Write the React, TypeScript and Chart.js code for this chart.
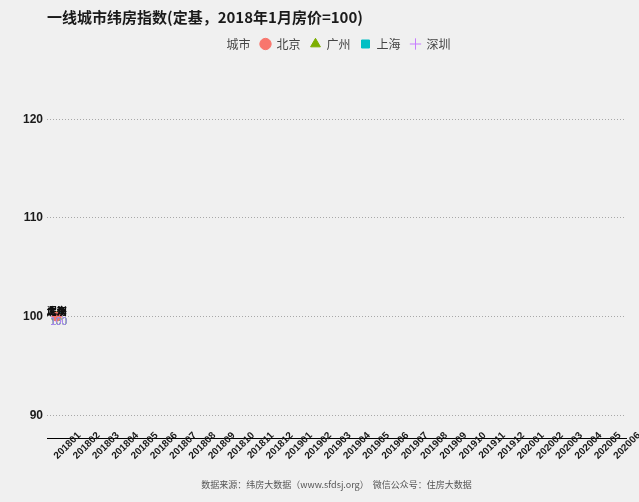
import React, { useEffect, useRef } from 'react';
import { Chart, registerables } from 'chart.js';

Chart.register(...registerables);

// ---- data ----
const months = [
  '201801', '201802', '201803', '201804', '201805', '201806',
  '201807', '201808', '201809', '201810', '201811', '201812',
  '201901', '201902', '201903', '201904', '201905', '201906',
  '201907', '201908', '201909', '201910', '201911', '201912',
  '202001', '202002', '202003', '202004', '202005', '202006',
];
const cities = ['北京', '广州', '上海', '深圳'];
const beijing = [100];
const guangzhou = [100];
const shanghai = [100];
const shenzhen = [100];
const yTicks = [90, 100, 110, 120];

const titleText = '一线城市纬房指数(定基，2018年1月房价=100)';
const legendTitle = '城市';
const footerText = '数据来源：纬房大数据（www.sfdsj.org）  微信公众号：住房大数据';

// ---- styles ----
const colors = ['#F8766D', '#7CAE00', '#00BFC4', '#C77CFF'];
const pointStyles = ['circle', 'triangle', 'rect', 'cross'];
const pointRadii = [4.5, 5.5, 5.5, 5.5];
const BG = '#F0F0F0';
const FONT = "'Liberation Sans', 'Noto Sans CJK SC', sans-serif";
const CJK = "'Noto Sans CJK SC', 'Liberation Sans', sans-serif";

const pointLabelPlugin = {
  id: 'pointLabels',
  afterDatasetsDraw(chart: any) {
    const ctx = chart.ctx;
    ctx.save();
    ctx.textAlign = 'center';
    ctx.textBaseline = 'middle';
    chart.data.datasets.forEach((ds: any, i: number) => {
      const meta = chart.getDatasetMeta(i);
      meta.data.forEach((el: any, j: number) => {
        const v = ds.data[j];
        if (v == null) return;
        ctx.font = `bold 10px ${CJK}`;
        ctx.fillStyle = '#111';
        ctx.fillText(ds.label, el.x, el.y - 5);
      });
    });
    chart.data.datasets.forEach((ds: any, i: number) => {
      const meta = chart.getDatasetMeta(i);
      meta.data.forEach((el: any, j: number) => {
        const v = ds.data[j];
        if (v == null) return;
        ctx.font = `10px ${FONT}`;
        ctx.fillStyle = colors[i];
        ctx.fillText(String(v), el.x + 2, el.y + 6);
      });
    });
    ctx.restore();
  },
};

const bgPlugin = {
  id: 'bg',
  beforeDraw(chart: any) {
    const ctx = chart.ctx;
    ctx.save();
    ctx.fillStyle = BG;
    ctx.fillRect(0, 0, chart.width, chart.height);
    ctx.restore();
  },
};

export default function App() {
  const ref = useRef<HTMLCanvasElement | null>(null);

  useEffect(() => {
    document.body.style.margin = '0';
    document.body.style.background = BG;
    if (!ref.current) return;
    const series = [beijing, guangzhou, shanghai, shenzhen];
    const chart = new Chart(ref.current, {
      type: 'line',
      data: {
        labels: months,
        datasets: cities.map((c, i) => ({
          label: c,
          data: series[i],
          borderColor: colors[i],
          backgroundColor: colors[i],
          pointStyle: pointStyles[i] as any,
          pointRadius: pointRadii[i],
          pointBorderWidth: 1,
          borderWidth: 1,
        })),
      },
      options: {
        responsive: false,
        animation: false,
        layout: { padding: { left: 0, right: 13, top: 0, bottom: 0 } },
        scales: {
          x: {
            type: 'category',
            offset: true,
            grid: { display: false, drawTicks: false },
            border: { display: true, color: '#000', width: 1 },
            ticks: {
              autoSkip: false,
              minRotation: 45,
              maxRotation: 45,
              mirror: true,
              labelOffset: 31,
              padding: 0,
              color: '#1a1a1a',
              font: { size: 10, weight: 'bold', family: FONT },
            },
          },
          y: {
            min: 87.67,
            max: 126,
            afterBuildTicks: (scale: any) => {
              scale.ticks = yTicks.map((v) => ({ value: v }));
            },
            afterFit: (scale: any) => {
              scale.width = 47;
            },
            grid: {
              drawTicks: false,
              color: '#a8a8a8',
              lineWidth: 1,
            },
            border: { display: false, dash: [1, 2] },
            ticks: {
              padding: 4,
              color: '#1a1a1a',
              font: { size: 12, weight: 'bold', family: FONT },
            },
          },
        },
        plugins: {
          title: {
            display: true,
            text: titleText,
            align: 'start',
            fullSize: false,
            color: '#1a1a1a',
            font: { size: 15, weight: 'bold', family: CJK },
            padding: { top: 8, bottom: 2 },
          },
          legend: {
            display: true,
            position: 'top',
            fullSize: false,
            labels: {
              usePointStyle: true,
              boxWidth: 10,
              boxHeight: 8,
              padding: 10,
              color: '#444',
              font: { size: 12, family: CJK },
              generateLabels: (ch: any) => {
                const items = Chart.defaults.plugins.legend.labels.generateLabels(ch);
                if (items.length) {
                  items[items.length - 1].text = items[items.length - 1].text + '\u3000';
                }
                return [
                  {
                    text: legendTitle,
                    fillStyle: 'rgba(0,0,0,0)',
                    strokeStyle: 'rgba(0,0,0,0)',
                    lineWidth: 0,
                    pointStyle: 'circle',
                    hidden: false,
                    datasetIndex: -1,
                    fontColor: '#444',
                  } as any,
                  ...items,
                ];
              },
            },
          },
          subtitle: {
            display: true,
            position: 'bottom',
            text: footerText,
            fullSize: false,
            color: '#555',
            font: { size: 9, family: CJK },
            padding: { top: 41, bottom: 12 },
          },
          tooltip: { enabled: false },
        },
      },
      plugins: [bgPlugin, pointLabelPlugin],
    } as any);
    return () => chart.destroy();
  }, []);

  return (
    <div style={{ width: 639, height: 502, background: BG }}>
      <canvas ref={ref} width={639} height={502} />
    </div>
  );
}
